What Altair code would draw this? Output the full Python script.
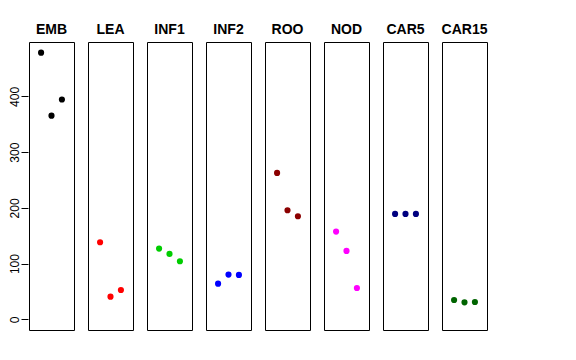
import altair as alt
import pandas as pd

groups = ["EMB", "LEA", "INF1", "INF2", "ROO", "NOD", "CAR5", "CAR15"]
colors = ["#000000", "#FF0000", "#00CD00", "#0000FF", "#8B0000", "#FF00FF", "#000080", "#006400"]
reps = [1, 2, 3]
emb = [478.6, 365.5, 394.5]
lea = [138.3, 40.6, 52.6]
inf1 = [126.9, 117.3, 104.2]
inf2 = [64.0, 80.2, 79.6]
roo = [262.8, 195.8, 185.0]
nod = [157.4, 122.7, 56.2]
car5 = [189.2, 189.2, 189.2]
car15 = [34.7, 30.5, 31.1]

series = [emb, lea, inf1, inf2, roo, nod, car5, car15]
rows = []
for g, vals in zip(groups, series):
    for r, v in zip(reps, vals):
        rows.append({"group": g, "rep": r, "value": v})
df = pd.DataFrame(rows)

FONT = "Liberation Sans"

points = alt.Chart(df).mark_circle(size=38, opacity=1).encode(
    x=alt.X("rep:Q", scale=alt.Scale(domain=[-0.16, 4.16], nice=False, zero=False), axis=None),
    y=alt.Y("value:Q",
            scale=alt.Scale(domain=[-19.2, 497.7], nice=False, zero=False),
            axis=alt.Axis(values=[0, 100, 200, 300, 400], title=None, grid=False, domain=False,
                          labelAngle=-90, tickSize=7, tickColor="black", labelPadding=0,
                          labelFont=FONT, labelFontSize=12, labelColor="black")),
    color=alt.Color("group:N", scale=alt.Scale(domain=groups, range=colors), legend=None),
).properties(width=45, height=288)

chart = points.facet(
    column=alt.Column("group:N", sort=groups,
                      header=alt.Header(title=None, labelFont=FONT, labelFontSize=14,
                                        labelFontWeight="bold", labelColor="black",
                                        labelPadding=4)),
    spacing=12,
).configure_view(stroke="black", strokeWidth=1).properties(
    padding={"top": 15, "left": 0, "right": 0, "bottom": 0}
)

chart.save("out.html", embed_options={"renderer": "svg", "actions": False})
